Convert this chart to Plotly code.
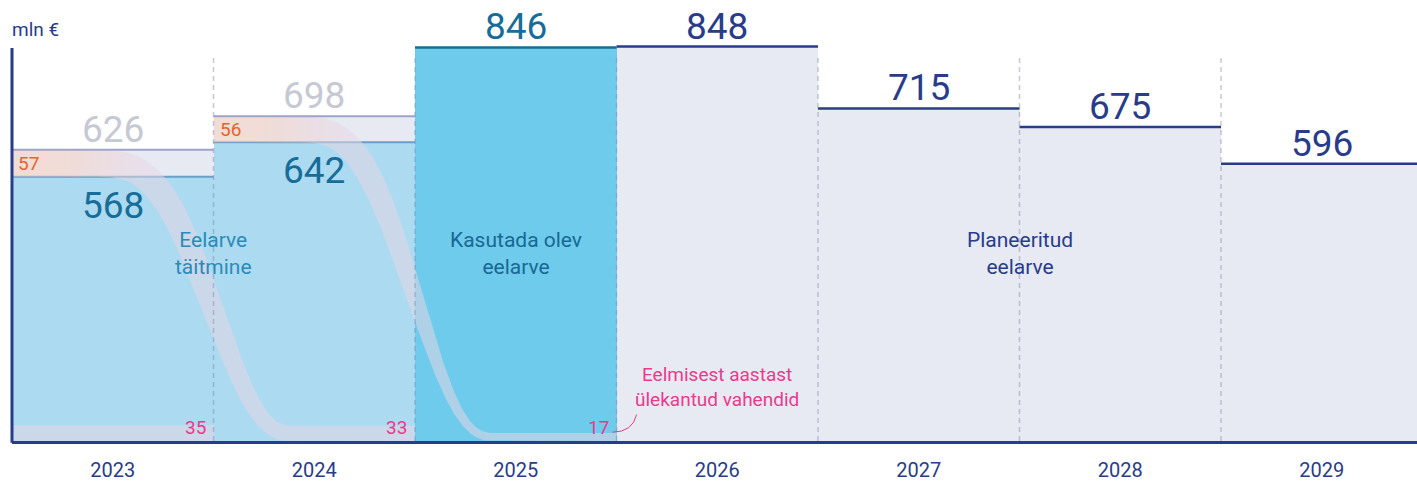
import numpy as np
import plotly.graph_objects as go

# ---------------- data ----------------
years = ["2023", "2024", "2025", "2026", "2027", "2028", "2029"]
total_budget = [626, 698, 846, 848, 715, 675, 596]   # eelarve (mln €)
executed = [568, 642]                                 # eelarve täitmine 2023, 2024
unspent = [57, 56]                                    # kasutamata, kantud järgmisse aastasse
carried_in = [35, 33, 17]                             # eelmisest aastast ülekantud vahendid 2023-2025

# ---------------- styling ----------------
FONT = "Roboto"
NAVY = "#283c8a"
TEAL = "#176d99"
TEAL_LIGHT = "#2b8bb8"
GREY_TXT = "#c6c9d4"
ORANGE = "#e8632b"
PINK = "#ea3a8c"
LIGHT_BLUE = "#acdaf0"
SKY = "#6fcbec"
LAVENDER = "#e7eaf3"

W, H = 1417, 482
ML, MR, MT, MB = 12, 0, 20, 41
PX_PER_X = 201.5
Y_MAX = 905
PLOT_W = W - ML - MR
PLOT_H = H - MT - MB
KX = PX_PER_X
KY = PLOT_H / Y_MAX
x_range = [-0.5, -0.5 + PLOT_W / PX_PER_X]

fig = go.Figure()

# executed part 2023/2024
fig.add_trace(go.Bar(x=[0, 1], y=executed, base=0, width=1,
                     marker=dict(color=LIGHT_BLUE, line=dict(width=0)), hoverinfo="skip"))
# unspent band 2023/2024
fig.add_trace(go.Bar(x=[0, 1], y=[t - e for t, e in zip(total_budget[:2], executed)],
                     base=executed, width=1,
                     marker=dict(color=LAVENDER, line=dict(width=0)), hoverinfo="skip"))
# 2025 budget in use
fig.add_trace(go.Bar(x=[2], y=[total_budget[2]], base=0, width=1,
                     marker=dict(color=SKY, line=dict(width=0)), hoverinfo="skip"))
# planned budgets
fig.add_trace(go.Bar(x=[3, 4, 5, 6], y=total_budget[3:], base=0, width=1,
                     marker=dict(color=LAVENDER, line=dict(width=0)), hoverinfo="skip"))

RIB_START = "rgba(250,205,185,0.5)"
RIB_END = "rgba(232,214,228,0.52)"

# carried-in band 2023 (from 2022)
fig.add_trace(go.Bar(x=[0], y=[carried_in[0]], base=0, width=1,
                     marker=dict(color=RIB_END, line=dict(width=0)), hoverinfo="skip"))

# line at executed level (under the ribbons)
for i, e in enumerate(executed):
    fig.add_trace(go.Scatter(x=[i - 0.5, i + 0.5], y=[e, e], mode="lines",
                             line=dict(color="#6a9fc6", width=2), hoverinfo="skip"))


def ribbon(i, lo, hi, carry, n=400):
    xs = np.linspace(i - 0.5, i + 1.5, n)
    ta, tb = i - 0.12, i + 0.9
    t = np.clip((xs - ta) / (tb - ta), 0, 1) ** 1.3
    s = t ** 3 * (10 - 15 * t + 6 * t * t)
    mid = (lo + hi) / 2 + (carry / 2 - (lo + hi) / 2) * s
    th = (hi - lo) + (carry - (hi - lo)) * s
    X, Y, Wd = xs * KX, mid * KY, th * KY
    dX, dY = np.gradient(X), np.gradient(Y)
    L = np.hypot(dX, dY)
    nx, ny = -dY / L, dX / L
    ux, uy = X + nx * Wd / 2, Y + ny * Wd / 2
    lx, ly = X - nx * Wd / 2, Y - ny * Wd / 2
    px = np.concatenate([ux, lx[::-1], ux[:1]]) / KX
    py = np.concatenate([uy, ly[::-1], uy[:1]]) / KY
    px = np.clip(px, i - 0.5, i + 1.5)
    return px, py


for i in range(2):
    rx, ry = ribbon(i, executed[i], total_budget[i], carried_in[i + 1])
    fig.add_trace(go.Scatter(
        x=rx, y=ry, mode="lines", line=dict(width=0), fill="toself",
        fillgradient=dict(type="horizontal", start=i - 0.5, stop=i + 1.5,
                          colorscale=[[0, RIB_START], [0.12, RIB_START], [0.32, RIB_END], [1, RIB_END]]),
        hoverinfo="skip"))

# top lines
for i, v in enumerate(total_budget):
    color = "#9ea3c8" if i < 2 else (TEAL if i == 2 else NAVY)
    fig.add_trace(go.Scatter(x=[i - 0.5, i + 0.5], y=[v, v], mode="lines",
                             line=dict(color=color, width=2.5 if i >= 2 else 2), hoverinfo="skip"))

shapes = []
# dashed separators
for b in range(len(years) - 1):
    shapes.append(dict(type="line", xref="x", yref="paper", x0=b + 0.5, x1=b + 0.5,
                       y0=0, y1=(PLOT_H - 37) / PLOT_H, layer="above",
                       line=dict(color="rgba(125,135,175,0.45)", width=1.5, dash="5px,4px")))
# left axis line
shapes.append(dict(type="line", xref="paper", yref="paper", x0=0, x1=0, y0=-0.004,
                   y1=(PLOT_H - 28) / PLOT_H, layer="above", line=dict(color=NAVY, width=3)))
# leader line from "17" to label
xa, ya = 2.5 - 0.02, 19
shapes.append(dict(type="path", xref="x", yref="y", layer="above",
                   path=f"M {xa},{ya} Q {xa + 0.1},{ya} {xa + 0.12},{ya + 38}",
                   line=dict(color=PINK, width=1)))

ann = []
# mln €
ann.append(dict(text="mln €", xref="paper", yref="paper", x=0, y=(PLOT_H - 10) / PLOT_H,
                xanchor="left", yanchor="middle", xshift=-2, showarrow=False,
                font=dict(family=FONT, size=19, color=NAVY)))
# total labels
for i, v in enumerate(total_budget):
    color = GREY_TXT if i < 2 else (TEAL if i == 2 else NAVY)
    ann.append(dict(text=str(v), x=i, y=v, xref="x", yref="y", yanchor="bottom",
                    yshift=-3, showarrow=False, font=dict(family=FONT, size=37, color=color)))
# executed labels
for i, v in enumerate(executed):
    ann.append(dict(text=str(v), x=i, y=v, xref="x", yref="y", yanchor="top",
                    yshift=-5, showarrow=False, font=dict(family=FONT, size=37, color=TEAL)))
# unspent labels
for i, v in enumerate(unspent):
    ann.append(dict(text=str(v), x=i - 0.5, y=(executed[i] + total_budget[i]) / 2,
                    xref="x", yref="y", xanchor="left", yanchor="middle", xshift=4,
                    showarrow=False, font=dict(family=FONT, size=19, color=ORANGE)))
# carried-in labels
for i, v in enumerate(carried_in):
    ann.append(dict(text=str(v), x=i + 0.5, y=0, xref="x", yref="y", xanchor="right",
                    yanchor="bottom", xshift=-6, yshift=0, showarrow=False,
                    font=dict(family=FONT, size=19, color=PINK)))
# section labels
ann.append(dict(text="Eelarve<br>täitmine", x=0.5, y=404, xref="x", yref="y",
                showarrow=False, font=dict(family=FONT, size=21, color=TEAL_LIGHT)))
ann.append(dict(text="Kasutada olev<br>eelarve", x=2, y=404, xref="x", yref="y",
                showarrow=False, font=dict(family=FONT, size=21, color="#176892")))
ann.append(dict(text="Planeeritud<br>eelarve", x=4.5, y=404, xref="x", yref="y",
                showarrow=False, font=dict(family=FONT, size=21, color=NAVY)))
ann.append(dict(text="Eelmisest aastast<br>ülekantud vahendid", x=3, y=116, xref="x", yref="y",
                showarrow=False, font=dict(family=FONT, size=19, color=PINK)))

fig.update_layout(
    template="none",
    width=W, height=H,
    margin=dict(l=ML, r=MR, t=MT, b=MB, pad=0),
    paper_bgcolor="white", plot_bgcolor="white",
    barmode="overlay", bargap=0,
    showlegend=False,
    shapes=shapes, annotations=ann,
    xaxis=dict(range=x_range, tickmode="array", tickvals=list(range(len(years))), ticktext=years,
               showgrid=False, zeroline=False, showline=True, linecolor=NAVY, linewidth=3,
               ticks="outside", ticklen=9, tickcolor="rgba(0,0,0,0)", automargin=False,
               tickfont=dict(family=FONT, size=20, color=NAVY), fixedrange=True),
    yaxis=dict(range=[0, Y_MAX], showgrid=False, zeroline=False, showline=False,
               showticklabels=False, ticks="", automargin=False, fixedrange=True),
    font=dict(family=FONT),
)

fig.write_html("out.html", config={"displayModeBar": False, "staticPlot": True},
               post_script="document.body.style.margin='0px';document.body.style.overflow='hidden';")
